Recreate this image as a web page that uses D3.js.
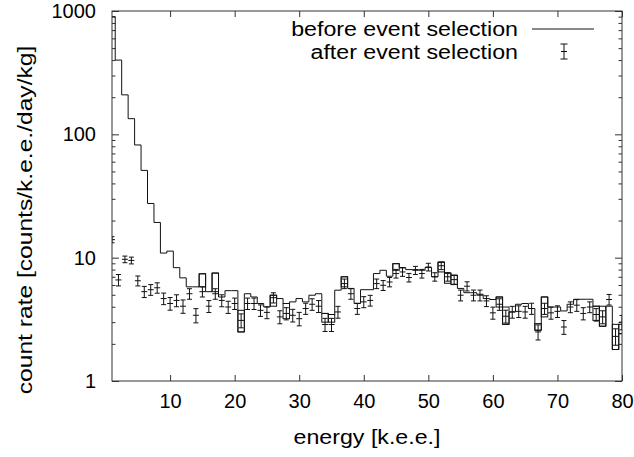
<!DOCTYPE html>
<html>
<head>
<meta charset="utf-8">
<script src="https://cdn.jsdelivr.net/npm/d3@7"></script>
<style>
  html, body { margin: 0; padding: 0; background: #fff; }
  svg { display: block; }
  text { font-family: "Liberation Sans", Arial, Helvetica, sans-serif; fill: #000; }
</style>
</head>
<body>
<svg id="chart" width="634" height="457"></svg>
<script>
// ---- data ----
const energies = [1,2,3,4,5,6,7,8,9,10,11,12,13,14,15,16,17,18,19,20,
  21,22,23,24,25,26,27,28,29,30,31,32,33,34,35,36,37,38,39,40,
  41,42,43,44,45,46,47,48,49,50,51,52,53,54,55,56,57,58,59,60,
  61,62,63,64,65,66,67,68,69,70,71,72,73,74,75,76,77,78,79,80];

// "before event selection" histogram (counts/k.e.e./day/kg)
const beforeRate = [900,400,209,134,82,51,27.5,19.3,10.9,11.3,8.3,6.86,5.8,5.8,7.4,5.3,7.5,4.8,5.4,5.4,
  2.5,5.1,4.8,4.25,3.98,4.96,4.66,4.25,4.38,4.66,4.38,4.96,5.1,3.53,3.46,5.45,7.0,5.63,4.25,5.5,
  5.5,7.43,7.9,7.07,8.94,8.32,8.0,8.0,7.9,8.32,7.0,9.2,7.5,7.2,5.63,5.2,5.2,5.05,4.66,4.58,
  4.8,2.88,3.63,4.19,4.25,3.87,2.58,4.8,3.98,3.98,3.7,4.19,4.6,4.6,4.6,4.04,2.78,4.04,1.8,2.42];

// bins where the "before" histogram shows a second level (box-like cells)
const beforeAltBins = [15,17,21,26,28,34,35,37,45,52,53,54,61,62,67,68,76,77,79,80];
const beforeAltRate = [5.8,5.3,3.74,4.04,3.2,3.0,3.0,5.8,7.9,7.66,6.2,6.05,3.98,3.98,2.92,3.31,3.1,4.04,2.88,2.88];

// "after event selection" points with errors
const afterRate = [14,6.6,9.7,9.5,6.5,5.3,5.5,5.7,4.66,4.25,4.5,4.04,5.1,3.41,5.3,4.04,5.1,4.5,3.98,4.25,
  3.1,4.25,4.25,3.74,3.6,4.74,3.31,3.53,3.41,3.2,3.87,4.19,4.04,2.87,2.87,3.63,6.16,5.1,3.87,4.38,
  4.5,6.16,5.97,6.35,7.43,7.66,6.9,7.9,7.43,8.4,7.0,8.6,7.0,6.64,4.96,5.87,4.96,4.96,4.46,3.57,
  4.19,3.35,3.63,3.67,3.63,3.87,2.5,3.87,3.57,3.67,2.74,3.98,4.12,3.53,3.98,3.46,3.31,4.58,2.3,3.0];

const afterErr = [0.8,0.7,0.6,0.6,0.6,0.55,0.55,0.55,0.5,0.5,0.5,0.5,0.5,0.45,0.5,0.45,0.5,0.5,0.45,0.45,
  0.4,0.45,0.45,0.4,0.4,0.45,0.4,0.4,0.4,0.4,0.4,0.45,0.45,0.35,0.35,0.4,0.55,0.5,0.4,0.45,
  0.45,0.55,0.55,0.55,0.6,0.6,0.55,0.6,0.6,0.6,0.55,0.6,0.55,0.55,0.5,0.5,0.5,0.5,0.45,0.4,
  0.45,0.4,0.4,0.4,0.4,0.4,0.35,0.4,0.4,0.4,0.35,0.4,0.45,0.4,0.4,0.4,0.4,0.45,0.35,0.4];

const xTicks = [10,20,30,40,50,60,70,80];
const yTicks = [1,10,100,1000];
const yMinorTicks = [2,3,4,5,6,7,8,9,20,30,40,50,60,70,80,90,200,300,400,500,600,700,800,900];

const xLabel = "energy [k.e.e.]";
const yLabel = "count rate [counts/k.e.e./day/kg]";
const seriesNames = ["before event selection", "after event selection"];

// ---- layout ----
const L = 112, R = 622, T = 11, B = 381;
const svg = d3.select("#chart");
const x = d3.scaleLinear().domain([1, 80]).range([L, R]);
const y = d3.scaleLog().domain([1, 1000]).range([B, T]);

const frameColor = "#333";
const lineColor = "#111";
const fontSize = 20;
const stretch = "scale(1.16,1)";
const stretchY = "scale(1.23,1)";

svg.append("defs").append("clipPath").attr("id", "clip")
  .append("rect").attr("x", L).attr("y", T).attr("width", R - L).attr("height", B - T);

function styleAxis(g) {
  g.select(".domain").remove();
  g.selectAll(".tick line").attr("stroke", frameColor).attr("stroke-width", 1);
  g.selectAll(".tick text").attr("font-size", fontSize).attr("fill", "#000")
    .attr("font-family", "Liberation Sans, Arial, sans-serif");
}

// bottom
svg.append("g").attr("transform", `translate(0,${B})`)
  .call(d3.axisBottom(x).tickValues(xTicks).tickSize(-6).tickPadding(13).tickFormat(d3.format("d")))
  .call(styleAxis);
// top
svg.append("g").attr("transform", `translate(0,${T})`)
  .call(d3.axisTop(x).tickValues(xTicks).tickSize(-6).tickFormat(""))
  .call(styleAxis);
// left
svg.append("g").attr("transform", `translate(${L},0)`)
  .call(d3.axisLeft(y).tickValues(yTicks).tickSize(-7).tickPadding(16).tickFormat(d3.format("d")))
  .call(styleAxis);
svg.append("g").attr("transform", `translate(${L},0)`)
  .call(d3.axisLeft(y).tickValues(yMinorTicks).tickSize(-3.5).tickFormat(""))
  .call(styleAxis);
// right
svg.append("g").attr("transform", `translate(${R},0)`)
  .call(d3.axisRight(y).tickValues(yTicks).tickSize(-7).tickFormat(""))
  .call(styleAxis);
svg.append("g").attr("transform", `translate(${R},0)`)
  .call(d3.axisRight(y).tickValues(yMinorTicks).tickSize(-3.5).tickFormat(""))
  .call(styleAxis);

// ---- before: histogram steps ----
const stepLine = d3.line().x(d => x(d[0])).y(d => y(d[1])).curve(d3.curveStepAfter);
const stepPts = energies.map((e, i) => [e - 0.5, beforeRate[i]]);
stepPts.push([energies[energies.length - 1] + 0.5, beforeRate[beforeRate.length - 1]]);

const plot = svg.append("g").attr("clip-path", "url(#clip)");
plot.append("path")
  .attr("d", stepLine(stepPts))
  .attr("fill", "none").attr("stroke", lineColor).attr("stroke-width", 1);

// second histogram level in some bins -> closed cells
beforeAltBins.forEach((b, k) => {
  const main = beforeRate[energies.indexOf(b)], alt = beforeAltRate[k];
  const yTop = y(Math.max(main, alt)), yBot = y(Math.min(main, alt));
  plot.append("rect")
    .attr("x", x(b - 0.5)).attr("width", x(b + 0.5) - x(b - 0.5))
    .attr("y", yTop).attr("height", yBot - yTop)
    .attr("fill", "none").attr("stroke", lineColor).attr("stroke-width", 1);
});

// ---- after: error bars ----
const cap = 2.5;
const eb = plot.append("g").attr("stroke", lineColor).attr("stroke-width", 1).attr("fill", "none");
energies.forEach((e, i) => {
  const v = afterRate[i], er = afterErr[i];
  const cx = x(e), y0 = y(v - er), y1 = y(v + er), yc = y(v);
  eb.append("line").attr("x1", cx).attr("x2", cx).attr("y1", y0).attr("y2", y1);
  eb.append("line").attr("x1", cx - cap).attr("x2", cx + cap).attr("y1", y0).attr("y2", y0);
  eb.append("line").attr("x1", cx - cap).attr("x2", cx + cap).attr("y1", y1).attr("y2", y1);
  eb.append("line").attr("x1", cx - 3).attr("x2", cx + 3).attr("y1", yc).attr("y2", yc);
});

// ---- frame ----
svg.append("rect").attr("x", L).attr("y", T).attr("width", R - L).attr("height", B - T)
  .attr("fill", "none").attr("stroke", frameColor).attr("stroke-width", 1);

// ---- labels ----
svg.append("text").attr("transform", `translate(${(L + R) / 2},444) ${stretch}`)
  .attr("text-anchor", "middle").attr("font-size", fontSize).text(xLabel);
svg.append("text").attr("transform", `translate(32,220) rotate(-90) ${stretchY}`)
  .attr("text-anchor", "middle").attr("font-size", fontSize).text(yLabel);

// ---- legend ----
const lg = svg.append("g");
lg.append("text").attr("transform", `translate(518,36) ${stretch}`)
  .attr("text-anchor", "end").attr("font-size", fontSize).text(seriesNames[0]);
lg.append("text").attr("transform", `translate(518,59) ${stretch}`)
  .attr("text-anchor", "end").attr("font-size", fontSize).text(seriesNames[1]);
lg.append("line").attr("x1", 532).attr("x2", 594).attr("y1", 29).attr("y2", 29)
  .attr("stroke", lineColor).attr("stroke-width", 1);
const lx = 564, ly0 = 44, ly1 = 59, lyc = 51.5;
lg.append("line").attr("x1", lx).attr("x2", lx).attr("y1", ly0).attr("y2", ly1).attr("stroke", lineColor);
lg.append("line").attr("x1", lx - cap - 1).attr("x2", lx + cap + 1).attr("y1", ly0).attr("y2", ly0).attr("stroke", lineColor);
lg.append("line").attr("x1", lx - cap - 1).attr("x2", lx + cap + 1).attr("y1", ly1).attr("y2", ly1).attr("stroke", lineColor);
lg.append("line").attr("x1", lx - 3).attr("x2", lx + 3).attr("y1", lyc).attr("y2", lyc).attr("stroke", lineColor);
</script>
</body>
</html>
